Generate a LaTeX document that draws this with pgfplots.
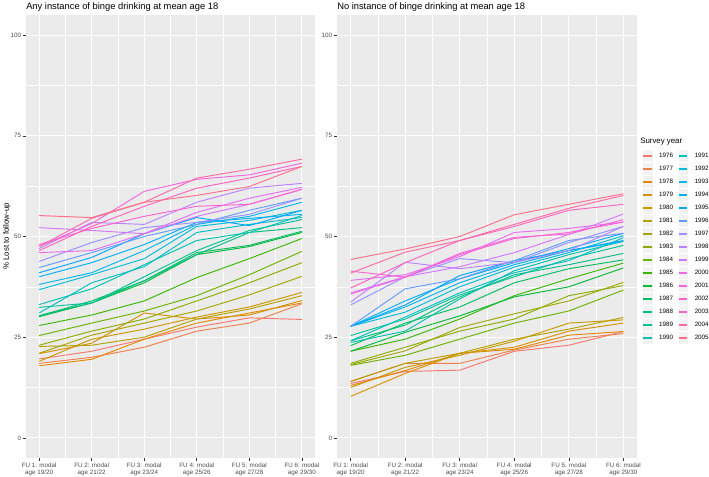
\documentclass[border=0pt]{standalone}
\usepackage{pgfplots}
\pgfplotsset{compat=1.18}
\usepackage{fontspec}
\setmainfont{Liberation Sans}
\definecolor{gray92}{RGB}{235,235,235}
\definecolor{gray95}{RGB}{242,242,242}
\definecolor{gray30}{RGB}{77,77,77}
\definecolor{gray20}{RGB}{51,51,51}

% ggplot2 hue palette: hcl(h, c=100, l=65) -> sRGB
\newcommand\hclcolor[2]{%
  \pgfmathsetmacro\hclU{100*cos(#2)}%
  \pgfmathsetmacro\hclV{100*sin(#2)}%
  \pgfmathsetmacro\hclUp{\hclU/845+0.19784}%
  \pgfmathsetmacro\hclVp{\hclV/845+0.46834}%
  \pgfmathsetmacro\hclY{0.340472}%
  \pgfmathsetmacro\hclX{\hclY*9*\hclUp/(4*\hclVp)}%
  \pgfmathsetmacro\hclZ{\hclY*(12-3*\hclUp-20*\hclVp)/(4*\hclVp)}%
  \pgfmathsetmacro\hclRl{max(0.000001,min(1,3.2406*\hclX-1.5372*\hclY-0.4986*\hclZ))}%
  \pgfmathsetmacro\hclGl{max(0.000001,min(1,-0.9689*\hclX+1.8758*\hclY+0.0415*\hclZ))}%
  \pgfmathsetmacro\hclBl{max(0.000001,min(1,0.0557*\hclX-0.2040*\hclY+1.0570*\hclZ))}%
  \pgfmathsetmacro\hclR{max(0,min(1,1.055*(\hclRl)^(1/2.4)-0.055))}%
  \pgfmathsetmacro\hclG{max(0,min(1,1.055*(\hclGl)^(1/2.4)-0.055))}%
  \pgfmathsetmacro\hclB{max(0,min(1,1.055*(\hclBl)^(1/2.4)-0.055))}%
  \definecolor{#1}{rgb}{\hclR,\hclG,\hclB}%
}
\hclcolor{c1976}{15}\hclcolor{c1977}{27}\hclcolor{c1978}{39}\hclcolor{c1979}{51}
\hclcolor{c1980}{63}\hclcolor{c1981}{75}\hclcolor{c1982}{87}\hclcolor{c1983}{99}
\hclcolor{c1984}{111}\hclcolor{c1985}{123}\hclcolor{c1986}{135}\hclcolor{c1987}{147}
\hclcolor{c1988}{159}\hclcolor{c1989}{171}\hclcolor{c1990}{183}\hclcolor{c1991}{195}
\hclcolor{c1992}{207}\hclcolor{c1993}{219}\hclcolor{c1994}{231}\hclcolor{c1995}{243}
\hclcolor{c1996}{255}\hclcolor{c1997}{267}\hclcolor{c1998}{279}\hclcolor{c1999}{291}
\hclcolor{c2000}{303}\hclcolor{c2001}{315}\hclcolor{c2002}{327}\hclcolor{c2003}{339}
\hclcolor{c2004}{351}\hclcolor{c2005}{3}

\pgfplotsset{
  every axis title shift=0pt,
  panel/.style={
    scale only axis, height=332.25pt,
    xmin=0.75, xmax=6.25, ymin=-5, ymax=105,
    axis background/.style={fill=gray92},
    axis line style={draw=none},
    xtick={1,2,3,4,5,6}, minor xtick={1.5,2.5,3.5,4.5,5.5},
    ytick={0,25,50,75,100}, minor ytick={12.5,37.5,62.5,87.5},
    grid=both,
    major grid style={white, line width=0.8pt},
    minor grid style={white, line width=0.4pt},
    tick pos=left, tick align=outside,
    major tick length=2pt, minor tick length=0pt,
    tick style={gray20, line width=0.45pt},
    xticklabels={{FU 1: modal\\age 19/20},{FU 2: modal\\age 21/22},{FU 3: modal\\age 23/24},{FU 4: modal\\age 25/26},{FU 5: modal\\age 27/28},{FU 6: modal\\age 29/30}},
    xticklabel style={align=center, font=\fontsize{4.7}{5.5}\selectfont, text=gray30, inner sep=0pt, yshift=-1.2pt},
    yticklabel style={font=\fontsize{4.7}{5.5}\selectfont, text=gray30, inner sep=0pt, xshift=-1.5pt},
    /pgf/number format/assume math mode=true,
    title style={at={(0,1)}, anchor=base west, inner sep=0pt, yshift=3.75pt, font=\fontsize{7}{8.4}\selectfont},
    every axis plot/.append style={line width=0.7pt},
  }
}

\begin{document}
\begin{tikzpicture}
\path[use as bounding box] (0,0) rectangle (531.75pt,357.75pt);

\begin{axis}[panel, at={(19.5pt,14.25pt)}, anchor=south west, width=216.75pt,
  title={Any instance of binge drinking at mean age 18}]
\addplot[c1976] coordinates {(1,19.6)(2,21.5)(3,24.5)(4,27.5)(5,29.8)(6,29.4)};
\addplot[c1977] coordinates {(1,18.5)(2,20.0)(3,22.5)(4,26.5)(5,28.5)(6,33.3)};
\addplot[c1978] coordinates {(1,17.9)(2,19.5)(3,24.5)(4,28.5)(5,31.0)(6,33.5)};
\addplot[c1979] coordinates {(1,20.9)(2,23.5)(3,31.0)(4,29.5)(5,30.5)(6,34.1)};
\addplot[c1980] coordinates {(1,19.0)(2,24.5)(3,27.0)(4,30.0)(5,32.5)(6,36.1)};
\addplot[c1981] coordinates {(1,22.7)(2,23.0)(3,25.0)(4,29.5)(5,32.0)(6,35.3)};
\addplot[c1982] coordinates {(1,21.0)(2,25.5)(3,28.5)(4,31.5)(5,35.5)(6,40.1)};
\addplot[c1983] coordinates {(1,23.0)(2,26.5)(3,29.5)(4,34.0)(5,38.5)(6,43.5)};
\addplot[c1984] coordinates {(1,25.4)(2,28.5)(3,31.5)(4,35.3)(5,40.5)(6,46.3)};
\addplot[c1985] coordinates {(1,27.9)(2,30.5)(3,34.0)(4,39.8)(5,44.5)(6,49.5)};
\addplot[c1986] coordinates {(1,30.1)(2,33.5)(3,38.5)(4,45.5)(5,47.5)(6,51.0)};
\addplot[c1987] coordinates {(1,30.3)(2,34.0)(3,39.0)(4,46.0)(5,47.8)(6,51.3)};
\addplot[c1988] coordinates {(1,30.3)(2,33.5)(3,39.0)(4,45.5)(5,51.0)(6,52.2)};
\addplot[c1989] coordinates {(1,32.4)(2,33.5)(3,40.0)(4,46.5)(5,51.5)(6,54.2)};
\addplot[c1990] coordinates {(1,33.1)(2,37.0)(3,43.0)(4,49.0)(5,51.0)(6,55.2)};
\addplot[c1991] coordinates {(1,31.0)(2,38.5)(3,42.5)(4,51.0)(5,53.0)(6,54.7)};
\addplot[c1992] coordinates {(1,36.8)(2,40.5)(3,44.5)(4,52.5)(5,54.0)(6,56.5)};
\addplot[c1993] coordinates {(1,38.1)(2,41.0)(3,46.5)(4,53.0)(5,55.0)(6,58.5)};
\addplot[c1994] coordinates {(1,40.0)(2,43.5)(3,48.0)(4,53.5)(5,54.5)(6,55.5)};
\addplot[c1995] coordinates {(1,41.0)(2,44.8)(3,50.7)(4,54.7)(5,52.7)(6,56.5)};
\addplot[c1996] coordinates {(1,42.3)(2,46.0)(3,50.0)(4,53.0)(5,56.5)(6,59.5)};
\addplot[c1997] coordinates {(1,43.8)(2,48.5)(3,52.2)(4,53.5)(5,55.5)(6,59.5)};
\addplot[c1998] coordinates {(1,47.0)(2,53.5)(3,53.0)(4,58.5)(5,62.0)(6,63.2)};
\addplot[c1999] coordinates {(1,52.2)(2,51.5)(3,50.7)(4,55.0)(5,58.0)(6,61.7)};
\addplot[c2000] coordinates {(1,46.0)(2,46.5)(3,50.7)(4,56.0)(5,59.5)(6,62.2)};
\addplot[c2001] coordinates {(1,47.5)(2,53.2)(3,61.2)(4,64.2)(5,65.3)(6,68.2)};
\addplot[c2002] coordinates {(1,48.0)(2,52.0)(3,55.0)(4,57.5)(5,58.0)(6,61.7)};
\addplot[c2003] coordinates {(1,46.5)(2,52.5)(3,57.5)(4,62.0)(5,64.5)(6,67.4)};
\addplot[c2004] coordinates {(1,47.5)(2,54.5)(3,58.5)(4,64.5)(5,66.7)(6,69.2)};
\addplot[c2005] coordinates {(1,55.2)(2,54.7)(3,58.5)(4,60.2)(5,62.4)(6,67.4)};
\end{axis}

\begin{axis}[panel, at={(252.75pt,14.25pt)}, anchor=south west, width=225pt,
  title={No instance of binge drinking at mean age 18},
  legend columns=15, transpose legend, legend cell align=left,
  legend image code/.code={%
    \fill[gray95, draw=white, line width=0.3pt] (0pt,-4.725pt) rectangle (8pt,4.725pt);
    \draw[#1, line width=1.1pt] (0.8pt,0pt) -- (7.2pt,0pt);},
  legend style={at={(1.0167,0.6966)}, anchor=north west, draw=none, fill=none,
    inner sep=0pt, outer sep=0pt, row sep=0pt,
    font=\fontsize{4.7}{5.5}\selectfont,
    nodes={inner sep=0pt},
    /tikz/every odd column/.append style={column sep=4.5pt},
    /tikz/every even column/.append style={column sep=3.5pt}}]
\addplot[c1976] coordinates {(1,13.5)(2,16.5)(3,16.8)(4,21.5)(5,23.0)(6,26.4)}; \addlegendentry{1976}
\addplot[c1977] coordinates {(1,14.0)(2,18.5)(3,18.5)(4,21.8)(5,24.5)(6,25.9)}; \addlegendentry{1977}
\addplot[c1978] coordinates {(1,13.0)(2,16.7)(3,21.0)(4,22.0)(5,25.5)(6,26.4)}; \addlegendentry{1978}
\addplot[c1979] coordinates {(1,10.3)(2,16.0)(3,21.0)(4,22.5)(5,26.5)(6,28.5)}; \addlegendentry{1979}
\addplot[c1980] coordinates {(1,12.5)(2,17.5)(3,20.5)(4,24.0)(5,28.5)(6,29.3)}; \addlegendentry{1980}
\addplot[c1981] coordinates {(1,14.0)(2,18.5)(3,21.0)(4,24.5)(5,27.0)(6,29.9)}; \addlegendentry{1981}
\addplot[c1982] coordinates {(1,18.2)(2,21.6)(3,27.4)(4,30.8)(5,34.0)(6,38.6)}; \addlegendentry{1982}
\addplot[c1983] coordinates {(1,18.5)(2,22.5)(3,26.5)(4,29.5)(5,35.3)(6,37.8)}; \addlegendentry{1983}
\addplot[c1984] coordinates {(1,18.0)(2,20.5)(3,24.5)(4,28.5)(5,31.5)(6,36.7)}; \addlegendentry{1984}
\addplot[c1985] coordinates {(1,21.5)(2,24.5)(3,29.5)(4,35.3)(5,39.5)(6,43.4)}; \addlegendentry{1985}
\addplot[c1986] coordinates {(1,21.5)(2,26.2)(3,30.3)(4,35.0)(5,37.5)(6,42.2)}; \addlegendentry{1986}
\addplot[c1987] coordinates {(1,22.9)(2,28.5)(3,32.5)(4,38.5)(5,42.0)(6,44.2)}; \addlegendentry{1987}
\addplot[c1988] coordinates {(1,24.1)(2,28.0)(3,35.0)(4,40.5)(5,43.0)(6,45.8)}; \addlegendentry{1988}
\addplot[c1989] coordinates {(1,25.4)(2,29.5)(3,35.5)(4,40.0)(5,44.5)(6,47.8)}; \addlegendentry{1989}
\addplot[c1990] coordinates {(1,23.7)(2,26.5)(3,34.5)(4,41.5)(5,45.5)(6,48.8)}; \addlegendentry{1990}
\addplot[c1991] coordinates {(1,24.1)(2,30.0)(3,36.0)(4,41.0)(5,44.0)(6,49.7)}; \addlegendentry{1991}
\addplot[c1992] coordinates {(1,27.7)(2,31.2)(3,37.5)(4,42.4)(5,46.0)(6,50.2)}; \addlegendentry{1992}
\addplot[c1993] coordinates {(1,27.7)(2,32.5)(3,38.5)(4,43.0)(5,46.5)(6,48.8)}; \addlegendentry{1993}
\addplot[c1994] coordinates {(1,27.7)(2,34.0)(3,39.5)(4,43.5)(5,47.0)(6,50.8)}; \addlegendentry{1994}
\addplot[c1995] coordinates {(1,27.7)(2,33.0)(3,40.3)(4,44.0)(5,46.5)(6,49.0)}; \addlegendentry{1995}
\addplot[c1996] coordinates {(1,27.7)(2,37.0)(3,39.5)(4,44.0)(5,49.0)(6,50.8)}; \addlegendentry{1996}
\addplot[c1997] coordinates {(1,33.0)(2,40.0)(3,44.5)(4,43.5)(5,48.5)(6,52.5)}; \addlegendentry{1997}
\addplot[c1998] coordinates {(1,33.7)(2,43.6)(3,42.0)(4,43.6)(5,46.5)(6,52.5)}; \addlegendentry{1998}
\addplot[c1999] coordinates {(1,36.0)(2,40.0)(3,42.5)(4,46.0)(5,50.5)(6,55.6)}; \addlegendentry{1999}
\addplot[c2000] coordinates {(1,39.1)(2,40.5)(3,45.0)(4,51.0)(5,52.0)(6,53.6)}; \addlegendentry{2000}
\addplot[c2001] coordinates {(1,35.7)(2,39.9)(3,45.8)(4,49.8)(5,50.6)(6,54.2)}; \addlegendentry{2001}
\addplot[c2002] coordinates {(1,41.4)(2,39.9)(3,45.5)(4,49.5)(5,51.0)(6,53.6)}; \addlegendentry{2002}
\addplot[c2003] coordinates {(1,37.2)(2,43.5)(3,49.0)(4,52.5)(5,56.5)(6,58.0)}; \addlegendentry{2003}
\addplot[c2004] coordinates {(1,40.9)(2,46.1)(3,49.0)(4,53.0)(5,57.0)(6,60.2)}; \addlegendentry{2004}
\addplot[c2005] coordinates {(1,44.3)(2,46.9)(3,50.0)(4,55.4)(5,58.0)(6,60.6)}; \addlegendentry{2005}
\end{axis}

\node[rotate=90, anchor=base, inner sep=0pt, font=\fontsize{5.9}{7}\selectfont] at (6.75pt,180.4pt) {\% Lost to follow-up};
\node[anchor=base west, inner sep=0pt, font=\fontsize{5.9}{7}\selectfont] at (480pt,249.75pt) {Survey year};
\end{tikzpicture}
\end{document}
